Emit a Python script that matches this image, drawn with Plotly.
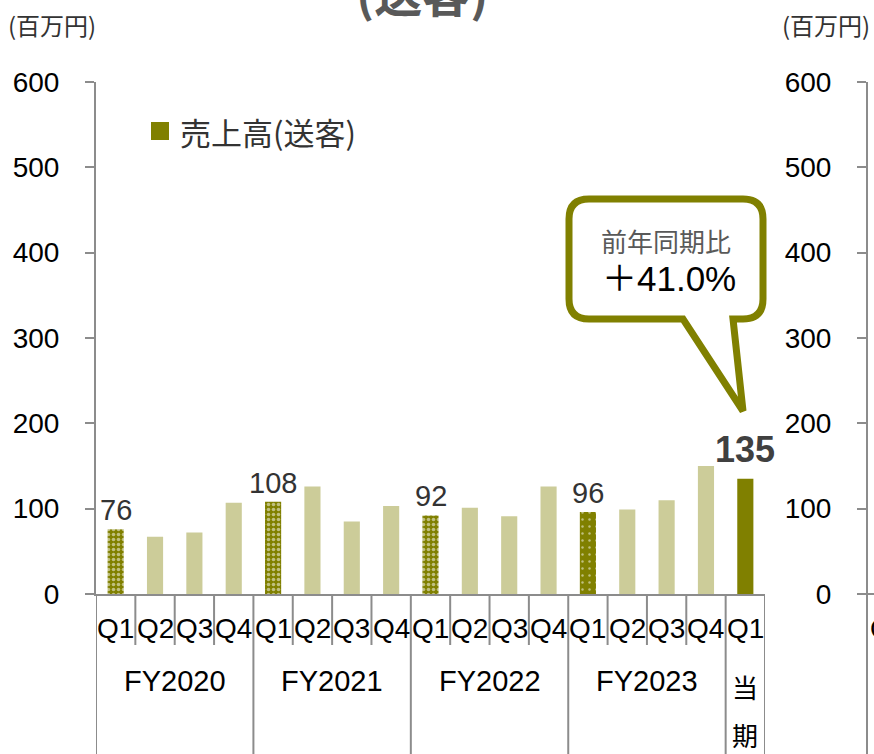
import plotly.graph_objects as go

# ---- data ----
fiscal = ["FY2020"] * 4 + ["FY2021"] * 4 + ["FY2022"] * 4 + ["FY2023"] * 4 + ["当期"]
quarters = ["Q1", "Q2", "Q3", "Q4"] * 4 + ["Q1"]
values = [76, 67, 72, 107, 108, 126, 85, 103, 92, 101, 91, 126, 96, 99, 110, 150, 135]
labeled = [True, False, False, False, True, False, False, False, True, False, False, False,
           True, False, False, False, True]
yoy_text = "＋41.0%"
legend_name = "売上高(送客)"
y_ticks = [0, 100, 200, 300, 400, 500, 600]

cats = [f"{f} {q}" for f, q in zip(fiscal, quarters)]

OLIVE = "#808000"
LIGHT = "#CCCC99"
GREY = "#8C8C8C"
FONT = "Liberation Sans, Arial, Noto Sans CJK JP, sans-serif"
CJK = "Noto Sans CJK JP, Liberation Sans, sans-serif"

W, H = 874, 754
L, R, T, B = 96, 7, 82, 160
PW = W - L - R
PH = H - T - B


def X(px):
    return (px - L) / PW


def Y(py):
    return (H - B - py) / PH


n = len(cats)
colors, shapes_p, fg, sol, sz = [], [], [], [], []
for i in range(n):
    if i == n - 1:
        colors.append(OLIVE); shapes_p.append(""); fg.append(OLIVE); sol.append(0.5); sz.append(5)
    elif quarters[i] == "Q1" and fiscal[i] == "FY2023":
        colors.append(OLIVE); shapes_p.append("."); fg.append("white"); sol.append(0.1); sz.append(7)
    elif quarters[i] == "Q1":
        colors.append(OLIVE); shapes_p.append("."); fg.append("white"); sol.append(0.4); sz.append(5)
    else:
        colors.append(LIGHT); shapes_p.append(""); fg.append(LIGHT); sol.append(0.5); sz.append(5)

fig = go.Figure()
fig.add_trace(go.Bar(
    x=cats, y=values, width=0.41,
    marker=dict(color=colors, line=dict(width=0),
                pattern=dict(shape=shapes_p, fgcolor=fg, solidity=sol, size=sz,
                             fillmode="overlay")),
    showlegend=False, hoverinfo="skip",
))
fig.add_trace(go.Scatter(x=[cats[0]], y=[None], yaxis="y2", showlegend=False, hoverinfo="skip"))

ax_common = dict(range=[0, 600], tickvals=y_ticks, ticks="outside", ticklen=9, tickwidth=2,
                 tickcolor=GREY, showline=True, linecolor=GREY, linewidth=2, showgrid=False,
                 zeroline=False, tickfont=dict(size=28, color="#000", family=FONT),
                 ticklabelstandoff=20)

fig.update_layout(
    width=W, height=H, margin=dict(l=L, r=R, t=T, b=B),
    paper_bgcolor="white", plot_bgcolor="white", bargap=0.59,
    font=dict(family=FONT),
    xaxis=dict(type="category", categoryorder="array", categoryarray=cats, range=[-0.5, n - 0.5],
               domain=[0, X(765)], showticklabels=False, ticks="", showline=True, linecolor=GREY,
               linewidth=2, showgrid=False, zeroline=False),
    yaxis=dict(**ax_common),
    yaxis2=dict(**ax_common, overlaying="y", anchor="free", position=1.0, side="left"),
)

shapes = []
# dividers below the axis
for i in range(n + 1):
    xpos = i - 0.5
    is_group = i == 0 or i == n or fiscal[i] != fiscal[i - 1]
    shapes.append(dict(type="line", xref="x", yref="paper", x0=xpos, x1=xpos, y0=0,
                       y1=Y(754) if is_group else Y(645), line=dict(color=GREY, width=2)))
# right-hand axis extension and neighbour axis stub
shapes.append(dict(type="line", xref="paper", yref="paper", x0=1, x1=1, y0=0, y1=Y(754),
                   line=dict(color=GREY, width=2)))
shapes.append(dict(type="line", xref="paper", yref="paper", x0=1, x1=X(880), y0=0, y1=0,
                   line=dict(color=GREY, width=2)))
# legend swatch
shapes.append(dict(type="rect", xref="paper", yref="paper", x0=X(151), x1=X(169), y0=Y(140), y1=Y(122),
                   fillcolor=OLIVE, line=dict(width=0)))
# callout bubble
l_, r_, t_, b_, rad = 569, 763, 199, 319, 20
pts = [
    ("M", l_ + rad, t_), ("L", r_ - rad, t_), ("Q", r_, t_, r_, t_ + rad), ("L", r_, b_ - rad),
    ("Q", r_, b_, r_ - rad, b_), ("L", 733, b_), ("L", 743, 411), ("L", 683, b_),
    ("L", l_ + rad, b_), ("Q", l_, b_, l_, b_ - rad), ("L", l_, t_ + rad), ("Q", l_, t_, l_ + rad, t_),
]
path = ""
for p in pts:
    cmd, coords = p[0], p[1:]
    conv = []
    for k in range(0, len(coords), 2):
        conv.append(f"{X(coords[k]):.5f},{Y(coords[k+1]):.5f}")
    path += cmd + " ".join(conv) + " "
path += "Z"
shapes.append(dict(type="path", xref="paper", yref="paper", path=path, fillcolor="white",
                   line=dict(color=OLIVE, width=7)))
fig.update_layout(shapes=shapes)

ann = []
# quarter labels
for c, q in zip(cats, quarters):
    ann.append(dict(x=c, xref="x", y=Y(628), yref="paper", text=q, showarrow=False,
                    font=dict(size=28, color="#000"), xanchor="center", yanchor="middle"))
# fiscal group labels
groups = []
for i, f in enumerate(fiscal):
    if i == 0 or f != fiscal[i - 1]:
        groups.append([f, i, i])
    else:
        groups[-1][2] = i
for f, a, b in groups:
    mid = (a + b) / 2
    if f == "当期":
        for k, ch in enumerate(f):
            ann.append(dict(x=mid, xref="x", y=Y(686 + 48 * k), yref="paper", text=ch, showarrow=False,
                            font=dict(size=26, color="#000", family=CJK), xanchor="center",
                            yanchor="middle"))
    else:
        ann.append(dict(x=mid, xref="x", y=Y(681), yref="paper", text=f, showarrow=False,
                        font=dict(size=29, color="#000"), xanchor="center", yanchor="middle"))
# value labels
for i, (c, v, lab) in enumerate(zip(cats, values, labeled)):
    if not lab:
        continue
    last = i == n - 1
    ann.append(dict(x=c, xref="x", y=v, yref="y", text=f"<b>{v}</b>" if last else str(v),
                    showarrow=False, yanchor="bottom", yshift=7 if last else 1,
                    font=dict(size=36 if last else 29, color="#404040" if last else "#333")))
# unit labels, title fragment, legend text
ann += [
    dict(x=X(6), y=Y(24), xref="paper", yref="paper", text="(百万円)", showarrow=False,
         xanchor="left", yanchor="middle", font=dict(size=24, color="#333", family=CJK)),
    dict(x=X(872), y=Y(24), xref="paper", yref="paper", text="(百万円)", showarrow=False,
         xanchor="right", yanchor="middle", font=dict(size=24, color="#333", family=CJK)),
    dict(x=X(422), y=Y(28), xref="paper", yref="paper", text="<b>(送客)</b>", showarrow=False,
         xanchor="center", yanchor="bottom", font=dict(size=48, color="#595959", family=CJK)),
    dict(x=X(178), y=Y(131), xref="paper", yref="paper", text=legend_name, showarrow=False,
         xanchor="left", yanchor="middle", font=dict(size=31, color="#333", family=CJK)),
    dict(x=X(666), y=Y(240), xref="paper", yref="paper", text="前年同期比", showarrow=False,
         xanchor="center", yanchor="middle", font=dict(size=26, color="#595959", family=CJK)),
    dict(x=X(669), y=Y(278), xref="paper", yref="paper", text=yoy_text, showarrow=False,
         xanchor="center", yanchor="middle", font=dict(size=35, color="#000")),
    dict(x=X(868), y=Y(628), xref="paper", yref="paper", text="Q1", showarrow=False,
         xanchor="left", yanchor="middle", font=dict(size=28, color="#000")),
]
fig.update_layout(annotations=ann)

fig.write_html("out.html")
